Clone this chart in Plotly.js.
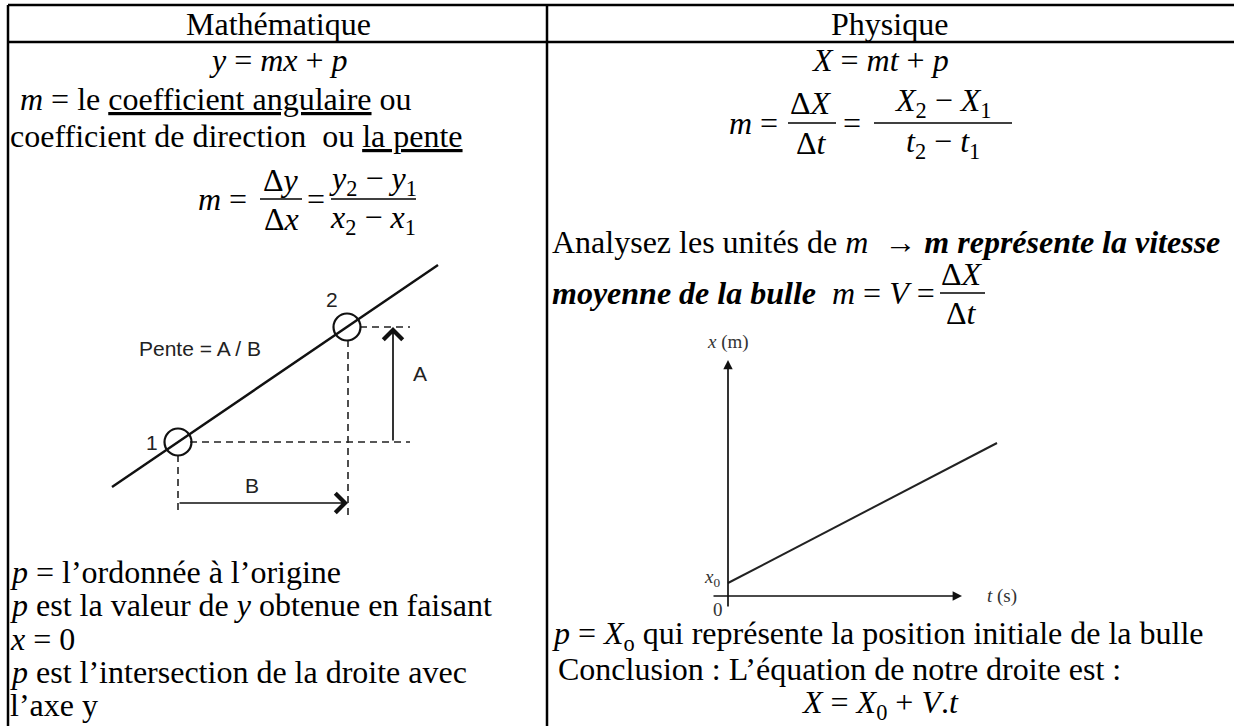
<!DOCTYPE html>
<html>
<head>
<meta charset="utf-8">
<script src="https://cdn.plot.ly/plotly-3.0.1.min.js"></script>
<style>
  body { margin: 0; background: #fff; }
  #chart { width: 1234px; height: 726px; }
</style>
</head>
<body>
<div id="chart"></div>
<script>
// page size, everything below is laid out in pixels and turned into paper units
const W = 1234, H = 726;
const SERIF = '"Liberation Serif", "Times New Roman", Times, serif';
const SANS = '"Liberation Sans", Arial, sans-serif';
const FS = 32;

// left diagram : slope of a straight line (data units = pixels of the sketch)
const slopeX = [12, 338];
const slopeY = [53, 275];
const pointsX = [78, 247];
const pointsY = [98, 213];
const guideX = [90, 310, null, 260, 310, null, 248, 248, null, 78, 78];
const guideY = [98, 98, null, 213, 213, null, 200, 25, null, 85, 25];
const arrowAX = [293, 293];
const arrowAY = [98, 213];
const arrowBX = [78, 248];
const arrowBY = [37, 37];
const labels1 = ['1', '2', 'Pente = A / B', 'A', 'B'];
const labels1X = [52, 232, 100, 320, 152];
const labels1Y = [98, 241, 192, 167, 55];

// right diagram : position x(t) of the bubble
const axisTX = [22, 272];
const axisTY = [44, 44];
const axisXX = [38, 38];
const axisXY = [32, 280];
const posX = [38, 307];
const posY = [57, 197];
const labels2 = ['<i>x</i> (m)', '<i>x</i><sub>0</sub>', '0', '<i>t</i> (s)'];
const labels2X = [38, 22, 28, 312];
const labels2Y = [298, 62, 31, 44];

function px(x) { return x / W; }
function py(y) { return 1 - y / H; }

function note(x, y, text, anchor, size) {
  return {
    xref: 'paper', yref: 'paper', x: px(x), y: py(y), text: text,
    showarrow: false, xanchor: anchor || 'left', yanchor: 'middle',
    font: {family: SERIF, size: size || FS, color: '#000'}
  };
}

function hline(x0, x1, y, w) {
  return {type: 'line', xref: 'paper', yref: 'paper', x0: px(x0), x1: px(x1),
    y0: py(y), y1: py(y), line: {color: '#000', width: w || 2.5}};
}
function vline(x, y0, y1, w) {
  return {type: 'line', xref: 'paper', yref: 'paper', x0: px(x), x1: px(x),
    y0: py(y0), y1: py(y1), line: {color: '#000', width: w || 2.5}};
}

const data = [
  {type: 'scatter', mode: 'lines', x: slopeX, y: slopeY, xaxis: 'x', yaxis: 'y',
   line: {color: '#111', width: 2.4}},
  {type: 'scatter', mode: 'lines', x: guideX, y: guideY, xaxis: 'x', yaxis: 'y',
   line: {color: '#222', width: 1.6, dash: '7px,5px'}},
  {type: 'scatter', mode: 'markers', x: pointsX, y: pointsY, xaxis: 'x', yaxis: 'y',
   marker: {symbol: 'circle-open', size: 27, color: '#111', line: {width: 2.2}}},
  {type: 'scatter', mode: 'lines', x: posX, y: posY, xaxis: 'x2', yaxis: 'y2',
   line: {color: '#222', width: 2}}
];

const annotations = [
  note(278, 24, 'Mathématique', 'center'),
  note(890, 24, 'Physique', 'center'),

  // left column
  note(278, 60, '<i>y</i> = <i>mx</i> + <i>p</i>', 'center'),
  note(10, 99, '\u00a0<i>m</i> = le <u>coefficient angulaire</u> ou'),
  note(8, 136, 'coefficient de direction \u00a0ou <u>la pente</u>'),
  note(249, 199, '<i>m</i> =', 'right'),
  note(281, 180, 'Δ<i>y</i>', 'center'),
  note(281, 219, 'Δ<i>x</i>', 'center'),
  note(316, 199, '=', 'center'),
  note(373, 180, '<i>y</i><sub>2</sub> − <i>y</i><sub>1</sub>', 'center'),
  note(373, 219, '<i>x</i><sub>2</sub> − <i>x</i><sub>1</sub>', 'center'),
  note(8, 572, '<i>p</i> = l’ordonnée à l’origine'),
  note(8, 605, '<i>p</i> est la valeur de <i>y</i> obtenue en faisant'),
  note(8, 639, '<i>x</i> = 0'),
  note(8, 672, '<i>p</i> est l’intersection de la droite avec'),
  note(8, 705, 'l’axe y'),

  // right column
  note(880, 60, '<i>X</i> = <i>mt</i> + <i>p</i>', 'center'),
  note(780, 123, '<i>m</i> =', 'right'),
  note(811, 103, 'Δ<i>X</i>', 'center'),
  note(811, 143, 'Δ<i>t</i>', 'center'),
  note(852, 123, '=', 'center'),
  note(943, 103, '<i>X</i><sub>2</sub> − <i>X</i><sub>1</sub>', 'center'),
  note(943, 143, '<i>t</i><sub>2</sub> − <i>t</i><sub>1</sub>', 'center'),
  note(550, 242, 'Analysez les unités de <i>m</i> \u00a0→ <b><i>m représente la vitesse</i></b>'),
  note(550, 293, '<b><i>moyenne de la bulle</i></b> \u00a0<i>m</i> = <i>V</i> =', 'left'),
  note(962, 274, 'Δ<i>X</i>', 'center'),
  note(962, 313, 'Δ<i>t</i>', 'center'),
  note(550, 635, '<i>p</i> = <i>X</i><sub>o</sub> qui représente la position initiale de la bulle'),
  note(556, 669, 'Conclusion : L’équation de notre droite est :'),
  note(880, 704, '<i>X</i> = <i>X</i><sub>0</sub> + <i>V</i>.<i>t</i>', 'center')
];

// labels of the two sketches, in data units
labels1.forEach(function(t, i) {
  annotations.push({xref: 'x', yref: 'y', x: labels1X[i], y: labels1Y[i], text: t,
    showarrow: false, font: {family: SANS, size: 21, color: '#222'}});
});
labels2.forEach(function(t, i) {
  annotations.push({xref: 'x2', yref: 'y2', x: labels2X[i], y: labels2Y[i], text: t,
    showarrow: false, font: {family: SERIF, size: 19, color: '#333'}});
});

// arrows of the sketches
function arrow(xr, yr, xs, ys, head, size) {
  return {xref: xr, yref: yr, axref: xr, ayref: yr, x: xs[1], y: ys[1], ax: xs[0], ay: ys[0],
    text: '', showarrow: true, arrowhead: head, arrowsize: size, arrowwidth: 1.7,
    arrowcolor: '#111', standoff: 0, startstandoff: 0};
}
annotations.push(arrow('x', 'y', arrowAX, arrowAY, 4, 2.2));
annotations.push(arrow('x', 'y', arrowBX, arrowBY, 4, 2.2));
annotations.push(arrow('x2', 'y2', axisXX, axisXY, 2, 1.1));
annotations.push(arrow('x2', 'y2', axisTX, axisTY, 2, 1.1));

const shapes = [
  // table
  hline(8, 1234, 5), hline(8, 1234, 42),
  vline(8, 5, 726), vline(547, 5, 726),
  // fraction bars
  hline(260, 302, 199, 1.5), hline(331, 416, 199, 1.5),
  hline(788, 836, 123, 1.5), hline(874, 1012, 123, 1.5),
  hline(940, 985, 293, 1.5)
];

const hidden = {visible: false, fixedrange: true};

const layout = {
  width: W, height: H,
  margin: {l: 0, r: 0, t: 0, b: 0},
  paper_bgcolor: '#fff', plot_bgcolor: 'rgba(0,0,0,0)',
  showlegend: false,
  xaxis: Object.assign({domain: [px(100), px(460)], range: [0, 360]}, hidden),
  yaxis: Object.assign({domain: [py(540), py(260)], range: [0, 280]}, hidden),
  xaxis2: Object.assign({domain: [px(690), px(1050)], range: [0, 360], anchor: 'y2'}, hidden),
  yaxis2: Object.assign({domain: [py(640), py(330)], range: [0, 310], anchor: 'x2'}, hidden),
  shapes: shapes,
  annotations: annotations
};

Plotly.newPlot('chart', data, layout, {staticPlot: true, displayModeBar: false});
</script>
</body>
</html>
